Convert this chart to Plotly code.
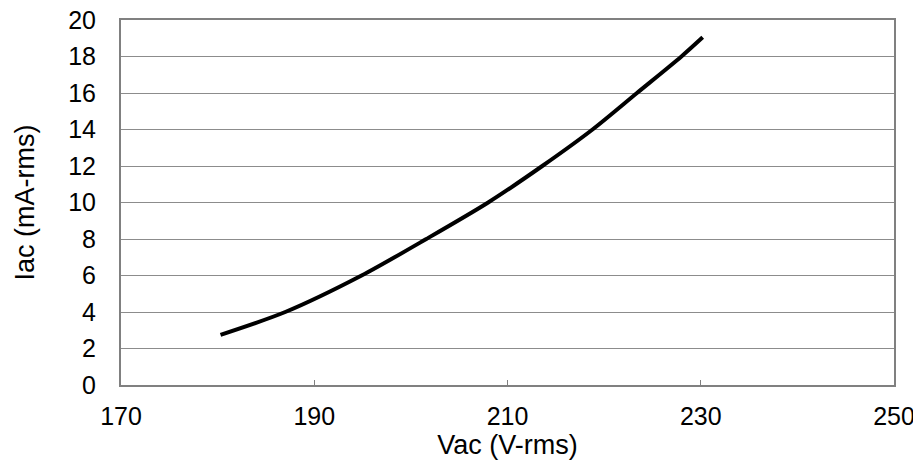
import plotly.graph_objects as go

vac = [180.3, 187.0, 194.9, 201.6, 208.0, 213.6, 218.8, 223.4, 228.0, 230.2]
iac = [2.75, 4.0, 6.0, 8.0, 10.0, 12.0, 14.0, 16.0, 18.0, 19.05]

x_ticks = [170, 190, 210, 230, 250]
y_ticks = [0, 2, 4, 6, 8, 10, 12, 14, 16, 18, 20]

fig = go.Figure()
fig.add_trace(go.Scatter(x=vac, y=iac, mode="lines",
                         line=dict(color="black", width=4, shape="spline", smoothing=0.8)))

font = dict(family="Liberation Sans, Arial, sans-serif", color="black", size=25)
tfont = dict(family="Liberation Sans, Arial, sans-serif", color="black", size=27)
fig.update_layout(
    width=913, height=461,
    margin=dict(l=113, r=27, t=12, b=84),
    paper_bgcolor="white", plot_bgcolor="white",
    showlegend=False, font=font,
    xaxis=dict(range=[170, 250], tickvals=x_ticks, showgrid=False,
               showline=True, linecolor="#808080", linewidth=2, mirror=True,
               ticks="inside", ticklen=5, tickcolor="#808080", tickwidth=1,
               ticklabelstandoff=8, automargin=False, ticklabeloverflow="allow",
               title=dict(text="Vac (V-rms)", standoff=1, font=tfont),
               zeroline=False),
    yaxis=dict(range=[0, 20], tickvals=y_ticks, showgrid=True,
               gridcolor="#8c8c8c", gridwidth=1,
               showline=True, linecolor="#808080", linewidth=2, mirror=True,
               ticks="", ticklabelstandoff=18, automargin=False,
               ticklabeloverflow="allow",
               title=dict(text="Iac (mA-rms)", standoff=26, font=tfont),
               zeroline=False),
)
fig.write_html("out.html")
